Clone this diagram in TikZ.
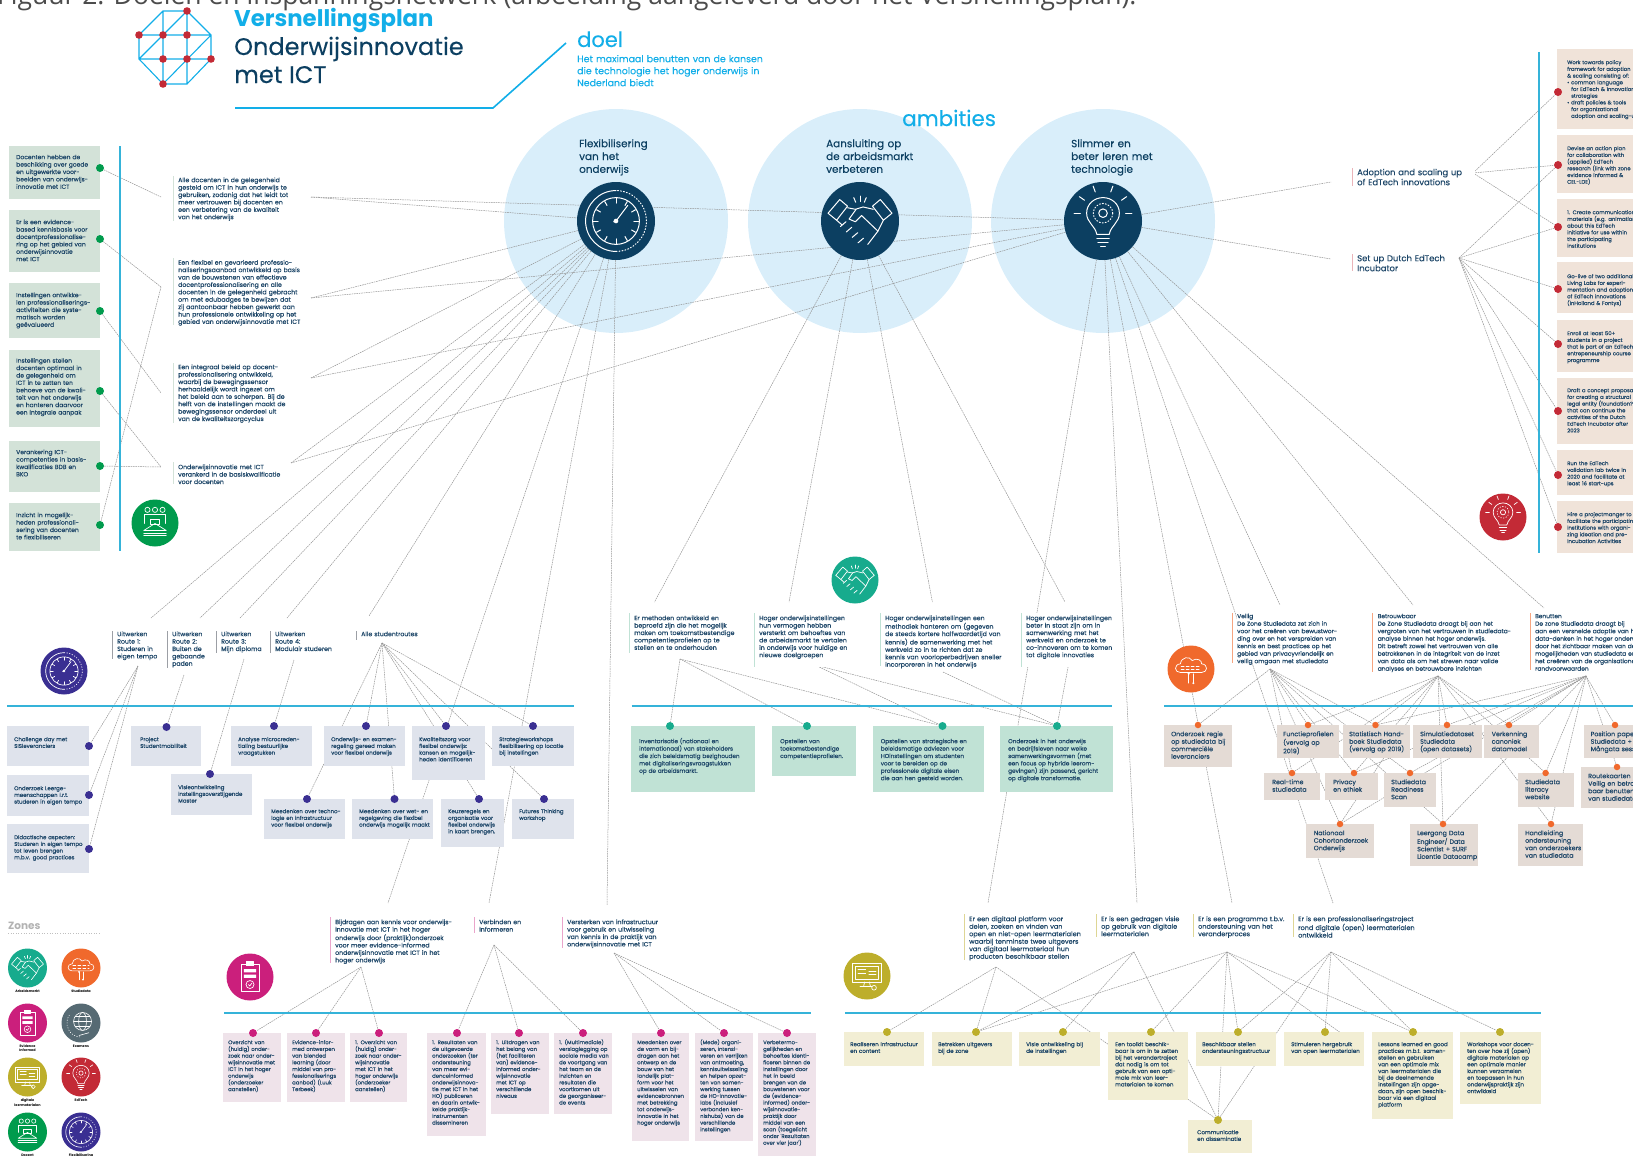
\documentclass[tikz,border=0pt]{standalone}
\usepackage{fontspec}
\setmainfont{Poppins}
\newfontfamily\capfont{Open Sans}
\newfontfamily\bodyfam{Poppins}[FakeBold=0.25]
\usetikzlibrary{backgrounds}

\definecolor{ink}{HTML}{1D4668}
\definecolor{sky}{HTML}{12AEE8}
\definecolor{rule}{HTML}{35B3D9}
\definecolor{halo}{HTML}{D9EEFA}
\definecolor{night}{HTML}{0C3F61}
\definecolor{zgreen}{HTML}{009B4D}
\definecolor{bgreen}{HTML}{D3E2D8}
\definecolor{zpurple}{HTML}{3A2F92}
\definecolor{bpurple}{HTML}{DFE3EC}
\definecolor{zteal}{HTML}{17AB8D}
\definecolor{bteal}{HTML}{C0E2D5}
\definecolor{zorange}{HTML}{F0692C}
\definecolor{borange}{HTML}{E4DBD5}
\definecolor{zpink}{HTML}{CB1F7C}
\definecolor{bpink}{HTML}{EFE3EA}
\definecolor{zolive}{HTML}{BDAE2B}
\definecolor{bolive}{HTML}{F2EED4}
\definecolor{zred}{HTML}{C32A36}
\definecolor{bred}{HTML}{F0E3D9}
\definecolor{zgrey}{HTML}{566A73}

\newcommand\boxfont{\bodyfam\fontsize{6}{7.4}\selectfont}
\newcommand\labelfont{\bodyfam\fontsize{6.2}{7.4}\selectfont}
\newcommand\mintfont{\bodyfam\fontsize{5.7}{7.4}\selectfont}
\newcommand\tallfont{\bodyfam\fontsize{6.3}{7.5}\selectfont}
\newcommand\tinyfont{\bodyfam\fontsize{5.3}{6.7}\selectfont}
\newcommand\slimfont{\bodyfam\fontsize{5.45}{6.7}\selectfont}
\newcommand\olivefont{\bodyfam\fontsize{5.5}{6.7}\selectfont}

\tikzset{
  card/.style n args={4}{anchor=north west,inner sep=0pt,font=\boxfont,text=ink,
    text width=#1,text height=#3,text depth={#2-#3},
    execute at begin node={\raggedright\leftskip=#4pt\relax}},
  tag/.style n args={3}{card={#1}{#2}{#3}{0},fill=white,font=\labelfont},
  dot/.style={circle,fill=#1,inner sep=0pt,minimum size=8pt},
  icon/.style={circle,fill=#1,inner sep=0pt,minimum size=47pt},
  mini/.style={circle,fill=#1,inner sep=0pt,minimum size=39pt},
  zonetag/.style={anchor=north,inner sep=0pt,align=center,font=\bfseries\fontsize{3.4}{4.4}\selectfont},
  link/.style={draw=black!42,line width=.5pt,dash pattern=on 1.6pt off .8pt},
  lane/.style={draw=rule,line width=2pt},
  bar/.style={draw=#1,line width=.8pt},
  headline/.style={anchor=base west,inner sep=0pt},
  glyph/.style={draw=white,line cap=round,line join=round},
  clockglyph/.pic={
    \draw[glyph] (0,0) circle (.6);
    \foreach \a in {0,30,...,330} \draw[glyph] (\a:.46) -- (\a:.58);
    \draw[glyph] (.3,-.4) -- (0,0) -- (-.06,.02);
    \fill[white] (0,0) circle (.06);
    \draw[glyph] (0,-.78) arc[start angle=-90,end angle=-270,radius=.78];
    \draw[glyph,dotted] (0,.78) arc[start angle=90,end angle=-90,radius=.78];
  },
  handglyph/.pic={
    \draw[glyph] (-.82,-.2) -- (-.52,-.55) -- (-.32,-.38) -- (-.6,-.02) -- cycle;
    \draw[glyph] (.82,-.2) -- (.52,-.55) -- (.32,-.38) -- (.6,-.02) -- cycle;
    \draw[glyph] (-.32,-.34) -- (-.12,-.3) -- (.08,-.36) -- (.34,-.3);
    \draw[glyph] (-.1,-.3) -- (-.28,-.05) -- (-.12,.02) -- (.04,-.14) -- (.46,.26);
    \draw[glyph] (-.6,-.02) -- (-.46,.1);
    \draw[glyph] (.6,-.02) -- (.46,.26) -- (.2,.6);
    \foreach \d in {0,1,2,3}
      \draw[glyph] ({-.5+.15*\d},{.14+.14*\d}) -- ({-.36+.15*\d},{.02+.14*\d});
    \draw[glyph] (0,-.64) -- (0,-.5);
    \draw[glyph] (-.16,-.6) -- (-.11,-.48);
    \draw[glyph] (.16,-.6) -- (.11,-.48);
  },
  bulbglyph/.pic={
    \draw[glyph] (-.16,.34) .. controls (-.2,.12) and (-.42,.04) .. (-.42,-.2)
      .. controls (-.42,-.44) and (-.22,-.6) .. (0,-.6)
      .. controls (.22,-.6) and (.42,-.44) .. (.42,-.2)
      .. controls (.42,.04) and (.2,.12) .. (.16,.34) -- cycle;
    \draw[glyph] (-.16,.45) -- (.16,.45);
    \draw[glyph] (-.13,.55) -- (.13,.55);
    \draw[glyph] (-.06,.65) -- (.06,.65);
    \draw[glyph] (0,-.2) circle (.11);
    \draw[glyph,dotted] (0,-.2) circle (.25);
    \begin{scope}[shift={(0,-.2)}]
      \foreach \a in {180,215,250,290,325,360} \draw[glyph] (\a:.58) -- (\a:.74);
    \end{scope}
  },
  teamglyph/.pic={
    \foreach \x in {-.32,0,.32} \draw[glyph] (\x,-.56) circle (.11);
    \draw[glyph] (-.46,.02) -- (-.46,-.36) -- (.46,-.36) -- (.46,.02);
    \draw[glyph] (-.2,-.14) rectangle (.2,.06);
    \draw[glyph] (-.48,.32) -- (0,.02) -- (.48,.32) -- cycle;
    \draw[glyph] (-.48,.43) -- (.48,.43);
    \draw[glyph] (-.48,.54) -- (.48,.54);
  },
  cloudglyph/.pic={
    \draw[glyph] (-.45,.15) .. controls (-.72,.15) and (-.74,-.2) .. (-.45,-.22)
      .. controls (-.42,-.52) and (-.05,-.56) .. (.05,-.36)
      .. controls (.25,-.5) and (.48,-.36) .. (.45,-.22)
      .. controls (.74,-.2) and (.72,.15) .. (.45,.15) -- cycle;
    \draw[glyph,densely dashed] (-.42,-.12) -- (.42,-.12);
    \draw[glyph,densely dashed] (-.42,.03) -- (.42,.03);
    \draw[glyph] (-.1,.2) -- (-.1,.6);
    \draw[glyph] (.1,.2) -- (.1,.6);
    \fill[white] (-.1,.2) circle (.05) (.1,.6) circle (.05);
  },
  clipglyph/.pic={
    \draw[glyph] (-.38,-.55) rectangle (.38,.62);
    \draw[glyph,fill=white] (-.15,-.66) rectangle (.15,-.48);
    \fill[white] (-.26,-.34) rectangle (.26,-.2) (-.26,-.1) rectangle (.26,.04);
    \draw[glyph] (0,.32) circle (.17);
    \draw[glyph] (-.07,.32) -- (-.01,.38) -- (.08,.26);
  },
  globeglyph/.pic={
    \draw[glyph] (.08,-.08) circle (.46);
    \draw[glyph] (.08,-.08) ellipse (.2 and .46);
    \draw[glyph] (-.38,-.08) -- (.54,-.08);
    \draw[glyph] (-.3,-.32) -- (.46,-.32);
    \draw[glyph] (-.3,.16) -- (.46,.16);
    \draw[glyph,dotted] (-.6,-.4) arc[start angle=-146,end angle=-270,radius=.72];
    \draw[glyph] (-.1,.64) -- (.4,.5);
  },
  screenglyph/.pic={
    \draw[glyph] (-.62,-.52) rectangle (.62,.25);
    \draw[glyph] (-.5,-.42) rectangle (.5,.14);
    \draw[glyph] (-.38,-.27) -- (-.06,-.27);
    \draw[glyph] (.08,-.2) -- (.38,-.2);
    \draw[glyph] (-.38,-.12) -- (-.06,-.12);
    \draw[glyph] (.08,-.06) -- (.38,-.06);
    \draw[glyph] (-.1,.25) -- (-.14,.42);
    \draw[glyph] (.1,.25) -- (.14,.42);
    \draw[glyph] (-.3,.44) -- (.2,.44);
    \draw[glyph] (.3,.5) circle (.1);
  }
}

\begin{document}
\begin{tikzpicture}[x=1pt,y=-1pt]
\useasboundingbox (0,0) rectangle (1633,1156);

\node[headline,text=black!70] (caption) at (-3,5)
  {\capfont\fontsize{26.5}{30}\selectfont Figuur 2: Doelen en inspanningsnetwerk (afbeelding aangeleverd door het Versnellingsplan).};

%Logo en titel
\draw[draw=sky,line width=1.1pt] (163,11) -- (187,11) -- (211,35) -- (211,59) -- (187,84) -- (163,84) -- (139,59) -- (139,35) -- cycle
  (163,11) -- (163,84) (187,11) -- (187,84) (139,35) -- (211,35) (139,59) -- (211,59)
  (139,59) -- (187,11) (163,84) -- (211,35);
\foreach \x/\y in {187/11,139/35,163/35,187/35,163/59,187/59,211/59,163/84}
  \fill[zred] (\x,\y) circle (3.8);

\node[headline,text=sky,font=\bfseries\fontsize{22.8}{27}\selectfont] (versn) at (234,27) {Versnellingsplan};
\node[headline,text=night,font=\bodyfam\fontsize{24}{28}\selectfont] (onderw) at (234,55) {Onderwijsinnovatie};
\node[headline,text=night,font=\bodyfam\fontsize{24}{28}\selectfont] (metict) at (234,83) {met ICT};
\draw[draw=sky,line width=1.6pt] (235,108) -- (493,108) -- (566,43);

\node[headline,text=sky,font=\bodyfam\fontsize{21}{25}\selectfont] (doel) at (577,47) {doel};
\node[card={215}{36}{3}{0},text=sky,font=\bodyfam\fontsize{9.4}{12}\selectfont] (doeltxt) at (577,59)
  {Het maximaal benutten van de kansen\\die technologie het hoger onderwijs in\\Nederland biedt};

%Ambities
\node[headline,text=sky,font=\bodyfam\fontsize{21.4}{25}\selectfont] (ambit) at (902,126) {ambities};

\node[circle,fill=night,inner sep=0pt,minimum size=78pt] (flex) at (616,221) {};
\node[circle,fill=night,inner sep=0pt,minimum size=78pt] (arbeid) at (860,221) {};
\node[circle,fill=night,inner sep=0pt,minimum size=78pt] (slim) at (1103,221) {};
\pic[scale=39,line width=1pt] at (flex) {clockglyph};
\pic[scale=39,line width=1pt] at (arbeid) {handglyph};
\pic[scale=39,line width=1pt] at (slim) {bulbglyph};

\node[card={100}{40}{10}{0},text=night,font=\bodyfam\fontsize{10.4}{12.8}\selectfont] (flextxt) at (579,137) {Flexibilisering\\van het\\onderwijs};
\node[card={110}{40}{10}{0},text=night,font=\bodyfam\fontsize{10.4}{12.8}\selectfont] (arbtxt) at (826,137) {Aansluiting op\\de arbeidsmarkt\\verbeteren};
\node[card={110}{40}{10}{0},text=night,font=\bodyfam\fontsize{10.4}{12.8}\selectfont] (slimtxt) at (1071,137) {Slimmer en\\beter leren met\\technologie};

%Docenten
\draw[lane] (120,146) -- (120,551);
\node[card={91}{53}{13}{7},fill=bgreen] (g1) at (9,146) {Docenten hebben de\\beschikking over goede\\en uitgewerkte voor-\\beelden van onderwijs-\\innovatie met ICT};
\node[card={91}{62}{14}{7},fill=bgreen] (g2) at (9,210) {Er is een evidence-\\based kennisbasis voor\\docentprofessionalise-\\ring op het gebied van\\onderwijsinnovatie\\met ICT};
\node[card={91}{55}{14}{7},fill=bgreen] (g3) at (9,283) {Instellingen ontwikke-\\len professionaliserings-\\activiteiten die syste-\\matisch worden\\geëvalueerd};
\node[card={91}{77}{12.5}{7},fill=bgreen] (g4) at (9,350) {Instellingen stellen\\docenten optimaal in\\de gelegenheid om\\ICT in te zetten ten\\behoeve van de kwali-\\teit van het onderwijs\\en hanteren daarvoor\\een integrale aanpak};
\node[card={91}{51}{13}{7},fill=bgreen] (g5) at (9,441) {Verankering ICT-\\competenties in basis-\\kwalificaties BDB en\\BKO};
\node[card={91}{48}{14}{7},fill=bgreen] (g6) at (9,503) {Inzicht in mogelijk-\\heden professionali-\\sering van docenten\\te flexibiliseren};
\foreach \n/\y in {gd1/168,gd2/239,gd3/311,gd4/391,gd5/466,gd6/525}
  \node[dot=zgreen] (\n) at (100,\y) {};

\node[tag={128}{45}{6}] (l1) at (178,176) {Alle docenten in de gelegenheid\\gesteld om ICT in hun onderwijs te\\gebruiken, zodanig dat het leidt tot\\meer vertrouwen bij docenten en\\een verbetering van de kwaliteit\\van het onderwijs};
\node[tag={128}{67}{6.5}] (l2) at (178,258) {Een flexibel en gevarieerd professio-\\naliseringsaanbod ontwikkeld op basis\\van de bouwstenen van effectieve\\docentprofessionalisering en alle\\docenten in de gelegenheid gebracht\\om met edubadges te bewijzen dat\\zij aantoonbaar hebben gewerkt aan\\hun professionele ontwikkeling op het\\gebied van onderwijsinnovatie met ICT};
\node[tag={128}{60}{6}] (l3) at (178,363) {Een integraal beleid op docent-\\professionalisering ontwikkeld,\\waarbij de bewegingssensor\\herhaaldelijk wordt ingezet om\\het beleid aan te scherpen. Bij de\\helft van de instellingen maakt de\\bewegingssensor onderdeel uit\\van de kwaliteitszorgcyclus};
\node[tag={110}{22}{7}] (l4) at (178,462) {Onderwijsinnovatie met ICT\\verankerd in de basiskwalificatie\\voor docenten};
\foreach \n in {l1,l2,l3,l4}
  \draw[bar=bgreen] ([xshift=-5pt]\n.north west) -- ([xshift=-5pt]\n.south west);

\node[icon=zgreen] (icteam) at (155,523) {};
\pic[scale=23.5,line width=.7pt] at (icteam) {teamglyph};

\coordinate (l1in) at (161,197);
\coordinate (l2in) at (161,287);
\coordinate (l3in) at (161,393);
\coordinate (l4in) at (161,467);
\coordinate (l1out) at (311,197);
\coordinate (l2out) at (311,298);
\coordinate (l3out) at (311,378);
\coordinate (l4out) at (291,463);

%Adoption en incubator
\draw[lane] (1539,52) -- (1539,553);
\tikzset{redcard/.style n args={3}{card={#1}{#2}{#3}{10},fill=bred,font=\tinyfont}}
\node[redcard={140}{80}{15}] (r1) at (1557,49) {Work towards policy\\framework for adoption\\\& scaling consisting of:\\• common language\\\hspace*{4pt}for EdTech \& innovation\\\hspace*{4pt}strategies\\• draft policies \& tools\\\hspace*{4pt}for organizational\\\hspace*{4pt}adoption and scaling-up};
\node[redcard={140}{58}{15}] (r2) at (1557,135) {Devise an action plan\\for collaboration with\\(applied) EdTech\\research (link with zone\\evidence informed \&\\CEL-LDE)};
\node[redcard={140}{58}{15}] (r3) at (1557,199) {1. Create communication\\materials (e.g. animation)\\about this EdTech\\initiative for use within\\the participating\\institutions};
\node[redcard={140}{51}{16}] (r4) at (1557,262) {Go-live of two additional\\Living Labs for experi-\\mentation and adoption\\of EdTech innovations\\(inHolland \& Fontys)};
\node[redcard={140}{52}{15}] (r5) at (1557,320) {Enroll at least 50+\\students in a project\\that is part of an EdTech\\entrepeneurship course\\programme};
\node[redcard={140}{66}{14}] (r6) at (1557,378) {Draft a concept proposal\\for creating a structural\\legal entity (foundation?)\\that can continue the\\activities of the Dutch\\EdTech Incubator after\\2023};
\node[redcard={140}{45}{15}] (r7) at (1557,450) {Run the EdTech\\validation lab twice in\\2020 and facilitate at\\least 16 start-ups};
\node[redcard={140}{52}{15}] (r8) at (1557,501) {Hire a projectmanger to\\facilitate the participating\\institutions with organi-\\zing ideation and pre-\\incubation Activities};
\foreach \n/\y in {rd1/92,rd2/165,rd3/227,rd4/289,rd5/344,rd6/411,rd7/475,rd8/527}
  \node[dot=zred] (\n) at (1558,\y) {};

\node[tag={118}{18}{7},font=\bodyfam\fontsize{8.4}{10}\selectfont] (adopt) at (1357,168) {Adoption and scaling up\\of EdTech innovations};
\node[tag={100}{17}{7},font=\bodyfam\fontsize{8.4}{10}\selectfont] (setup) at (1357,254) {Set up Dutch EdTech\\Incubator};
\foreach \n in {adopt,setup}
  \draw[bar=zred!35] ([xshift=-5pt]\n.north west) -- ([xshift=-5pt]\n.south west);

\node[icon=zred] (icbulb) at (1503,517) {};
\pic[scale=23.5,line width=.7pt] at (icbulb) {bulbglyph};

\coordinate (adoptin) at (1331,182);
\coordinate (setupin) at (1331,259);
\coordinate (adoptout) at (1473,173);
\coordinate (setupout) at (1459,258);

%Flexibilisering
\draw[lane] (7,706) -- (574,706);
\node[tag={48}{28}{5}] (u1) at (117,631) {Uitwerken\\Route 1:\\Studeren in\\eigen tempo};
\node[tag={40}{37}{5}] (u2) at (172,631) {Uitwerken\\Route 2:\\Buiten de\\gebaande\\paden};
\node[tag={48}{22}{5}] (u3) at (221,631) {Uitwerken\\Route 3:\\Mijn diploma};
\node[tag={62}{22}{5}] (u4) at (275,631) {Uitwerken\\Route 4:\\Modulair studeren};
\node[tag={66}{9}{5}] (u5) at (361,631) {Alle studentroutes};
\foreach \n in {u1,u2,u3,u4,u5}
  \draw[bar=bpurple!70!black] ([xshift=-5pt]\n.north west) -- ([xshift=-5pt]\n.south west);

\node[icon=zpurple] (icflex) at (64,671) {};
\pic[scale=23.5,line width=.7pt] at (icflex) {clockglyph};

\tikzset{purplecard/.style n args={4}{card={#2}{#3}{#4}{#1},fill=bpurple,font=\slimfont}}
\node[purplecard={7}{82}{40}{15}] (b1) at (7,726) {Challenge day met\\SISleveranciers};
\node[purplecard={7}{82}{41}{15}] (b2) at (7,775) {Onderzoek Leerge-\\meenschappen i.r.t.\\studeren in eigen tempo};
\node[purplecard={7}{82}{49}{15}] (b3) at (7,824) {Didactische aspecten:\\Studeren in eigen tempo\\tot leven brengen\\m.b.v. good practices};
\node[purplecard={9}{70}{40}{15}] (b4) at (131,726) {Project\\Studentmobiliteit};
\node[purplecard={7}{81}{41}{15}] (b5) at (171,774) {Visieontwikkeling\\instellingsoverstijgende\\Master};
\node[purplecard={7}{81}{40}{15}] (b6) at (231,726) {Analyse microcreden-\\tialing bestuurlijke\\vraagstukken};
\node[purplecard={7}{81}{40}{15}] (b7) at (324,726) {Onderwijs- en examen-\\regeling gereed maken\\voor flexibel onderwijs};
\node[purplecard={7}{73}{54}{15}] (b8) at (412,726) {Kwaliteitszorg voor\\flexibel onderwijs:\\kansen en mogelijk-\\heden identificeren};
\node[purplecard={7}{82}{40}{15}] (b9) at (492,726) {Strategieworkshops\\flexibilisering op locatie\\bij instellingen};
\node[purplecard={7}{81}{40}{14}] (b10) at (264,799) {Meedenken over techno-\\logie en infrastructuur\\voor flexibel onderwijs};
\node[purplecard={7}{81}{40}{14}] (b11) at (352,799) {Meedenken over wet- en\\regelgeving die flexibel\\onderwijs mogelijk maakt};
\node[purplecard={7}{63}{48}{14}] (b12) at (441,799) {Keuzeregels en\\organisatie voor\\flexibel onderwijs\\in kaart brengen.};
\node[purplecard={7}{62}{40}{14}] (b13) at (512,799) {Futures Thinking\\workshop};
\foreach \n/\x/\y in {bd1/89/746,bd2/89/795,bd3/89/849,bd4/166.5/727,bd5/210/774,bd6/274/726,bd7/366/726,bd8/446/726,bd9/533/726,bd10/307/799,bd11/394.5/799,bd12/479/799,bd13/544/799}
  \node[dot=zpurple] (\n) at (\x,\y) {};

\coordinate (u1in) at (151,618);
\coordinate (u2in) at (200,618);
\coordinate (u3in) at (240,618);
\coordinate (u4in) at (287,618);
\coordinate (u5in) at (369,616);
\coordinate (u1out) at (138,666);
\coordinate (u2out) at (184,675);
\coordinate (u3out) at (244,659);
\coordinate (u4out) at (294,660);
\coordinate (u5out) at (382,643);

%Arbeidsmarkt
\draw[lane] (631.5,706) -- (1112,706);
\node[tag={112}{40}{7}] (m1) at (634,613) {Er methoden ontwikkeld en\\beproefd zijn die het mogelijk\\maken om toekomstbestendige\\competentieprofielen op te\\stellen en te onderhouden};
\node[tag={112}{54}{7}] (m2) at (759,613) {Hoger onderwijsinstellingen\\hun vermogen hebben\\versterkt om behoeftes van\\de arbeidsmarkt te vertalen\\in onderwijs voor huidige en\\nieuwe doelgroepen};
\node[tag={130}{53}{7}] (m3) at (885,613) {Hoger onderwijsinstellingen een\\methodiek hanteren om (gegeven\\de steeds kortere halfwaardetijd van\\kennis) de samenwerking met het\\werkveld zo in te richten dat ze\\kennis van voorloperbedrijven sneller\\incorporeren in het onderwijs};
\node[tag={92}{54}{7}] (m4) at (1026,613) {Hoger onderwijsinstellingen\\beter in staat zijn om in\\samenwerking met het\\werkveld en onderzoek te\\co-innoveren om te komen\\tot digitale innovaties};
\foreach \n in {m1,m2,m3,m4}
  \draw[bar=bteal] ([xshift=-5pt]\n.north west) -- ([xshift=-5pt]\n.south west);

\node[icon=zteal] (ichand) at (855,580) {};
\pic[scale=23.5,line width=.7pt] at (ichand) {handglyph};

\node[card={124}{66}{17}{8},fill=bteal,font=\mintfont] (n1) at (631,726) {Inventarisatie (nationaal en\\internationaal) van stakeholders\\die zich beleidsmatig bezighouden\\met digitaliseringsvraagstukken\\op de arbeidsmarkt.};
\node[card={84}{50}{17}{8},fill=bteal,font=\mintfont] (n2) at (772,726) {Opstellen van\\toekomstbestendige\\competentieprofielen.};
\node[card={111}{66}{17}{8},fill=bteal,font=\mintfont] (n3) at (872.6,726) {Opstellen van strategische en\\beleidsmatige adviezen voor\\HOinstellingen om studenten\\voor te bereiden op de\\professionele digitale eisen\\die aan hen gesteld worden.};
\node[card={113}{66}{17}{8},fill=bteal,font=\mintfont] (n4) at (1000,726) {Onderzoek in het onderwijs\\en bedrijfsleven naar welke\\samenwerkingsvormen (met\\een focus op hybride leerom-\\gevingen) zijn passend, gericht\\op digitale transformatie.};
\foreach \n/\x in {nd1/670,nd2/807,nd3/942.5,nd4/1057}
  \node[dot=zteal] (\n) at (\x,726) {};

\coordinate (m1in) at (654.5,602);
\coordinate (m2in) at (789,602);
\coordinate (m3in) at (932.4,602);
\coordinate (m4in) at (1065,602);
\coordinate (m1out) at (680,659);
\coordinate (m2out) at (815,665);
\coordinate (m3out) at (943,672);
\coordinate (m4out) at (1069,662);

%Studiedata
\draw[lane] (1164,706) -- (1633,706);
\tikzset{datatag/.style={font=\bodyfam\fontsize{5.9}{7.5}\selectfont}}
\node[tag={108}{50}{5},datatag] (v1) at (1237,613) {Veilig\\De Zone Studiedata zet zich in\\voor het creëren van bewustwor-\\ding over en het verspreiden van\\kennis en best practices op het\\gebied van privacyvriendelijk en\\veilig omgaan met studiedata};
\node[tag={146}{59}{5},datatag] (v2) at (1377.5,613) {Betrouwbaar\\De Zone Studiedata draagt bij aan het\\vergroten van het vertrouwen in studiedata-\\analyse binnen het hoger onderwijs.\\Dit betreft zowel het vertrouwen van alle\\betrokkenen in de integriteit van de inzet\\van data als om het streven naar valide\\analyses en betrouwbare inzichten};
\node[tag={130}{57}{5},datatag] (v3) at (1535,613) {Benutten\\De zone Studiedata draagt bij\\aan een versnelde adoptie van het\\data-denken in het hoger onderwijs\\door het zichtbaar maken van de\\mogelijkheden van studiedata en\\het creëren van de organisationele\\randvoorwaarden};
\foreach \n in {v1,v2,v3}
  \draw[bar=zorange!60] ([xshift=-5pt]\n.north west) -- ([xshift=-5pt]\n.south west);

\node[icon=zorange] (iccloud) at (1191,669) {};
\pic[scale=23.5,line width=.7pt] at (iccloud) {cloudglyph};

\tikzset{orangecard/.style n args={4}{card={#1}{#2}{#3}{#4},fill=borange,font=\tallfont}}
\node[orangecard={68}{42}{11}{7}] (o1) at (1164,725) {Onderzoek regie\\op studiedata bij\\commerciële\\leveranciers};
\node[orangecard={62}{33}{11}{6}] (o2) at (1277,725) {Functieprofielen\\(vervolg op\\2019)};
\node[orangecard={67.5}{33}{11}{6.5}] (o3) at (1342.5,725) {Statistisch Hand-\\boek Studiedata\\(vervolg op 2019)};
\node[orangecard={69}{33}{11}{7}] (o4) at (1413,725) {Simulatiedataset\\Studiedata\\(open datasets)};
\node[orangecard={55}{33}{11}{7.5}] (o5) at (1484,725) {Verkenning\\canoniek\\datamodel};
\node[orangecard={80}{33}{11}{6.5}] (o6) at (1584,725) {Position paper\\Studiedata +\\Mångata sessie};
\node[orangecard={56}{27}{11}{8}] (o7) at (1264,773) {Real-time\\studiedata};
\node[orangecard={53}{27}{11}{8}] (o8) at (1325,773) {Privacy\\en ethiek};
\node[orangecard={52}{34}{11}{7}] (o9) at (1384,773) {Studiedata\\Readiness\\Scan};
\node[orangecard={55.5}{34}{11}{7}] (o10) at (1518,773) {Studiedata\\literacy\\website};
\node[orangecard={80}{41}{11}{7}] (o11) at (1581,767) {Routekaarten\\Veilig en betrouw-\\baar benutten\\van studiedata};
\node[orangecard={68}{34}{11}{7.6}] (o12) at (1306,824) {Nationaal\\Cohortonderzoek\\Onderwijs};
\node[orangecard={68}{42}{11}{7.5}] (o13) at (1409.5,824) {Leergang Data\\Engineer/ Data\\Scientist + SURF\\Licentie Datacamp};
\node[orangecard={65}{42}{11}{7}] (o14) at (1518,824) {Handleiding\\ondersteuning\\van onderzoekers\\van studiedata};
\tikzset{orangedot/.style={dot=zorange,minimum size=6.5pt}}
\foreach \n/\x/\y in {od1/1198/725,od2/1308/725,od3/1375.5/725,od4/1447/725,od5/1509/725,od6/1615/725,od7/1292/773,od8/1354/773,od9/1410/773,od10/1545.6/773,od11/1617/767,od12/1340/824,od13/1443/824,od14/1551/824}
  \node[orangedot] (\n) at (\x,\y) {};

\coordinate (v1in) at (1280,605);
\coordinate (v2in) at (1413,605);
\coordinate (v3in) at (1544,608);
\coordinate (v1out) at (1270,669);
\coordinate (v2out) at (1438,676);
\coordinate (v3out) at (1586,676);

%Zones
\node[headline,text=black!30,font=\bfseries\fontsize{10.5}{12}\selectfont] (zones) at (8,929) {Zones};
\draw[draw=black!25,dotted,line width=.6pt] (8,933) -- (100,933);
\node[mini=zteal] (z1) at (27.5,968) {};
\node[mini=zorange] (z2) at (81,968) {};
\node[mini=zpink] (z3) at (27.5,1023) {};
\node[mini=zgrey] (z4) at (81,1023) {};
\node[mini=zolive] (z5) at (27.5,1077) {};
\node[mini=zred] (z6) at (81,1077) {};
\node[mini=zgreen] (z7) at (27.5,1132) {};
\node[mini=zpurple] (z8) at (81,1132) {};
\pic[scale=19.5,line width=.6pt] at (z1) {handglyph};
\pic[scale=19.5,line width=.6pt] at (z2) {cloudglyph};
\pic[scale=19.5,line width=.6pt] at (z3) {clipglyph};
\pic[scale=19.5,line width=.6pt] at (z4) {globeglyph};
\pic[scale=19.5,line width=.6pt] at (z5) {screenglyph};
\pic[scale=19.5,line width=.6pt] at (z6) {bulbglyph};
\pic[scale=19.5,line width=.6pt] at (z7) {teamglyph};
\pic[scale=19.5,line width=.6pt] at (z8) {clockglyph};
\node[zonetag] (zt1) at (27.5,990) {Arbeidsmarkt};
\node[zonetag] (zt2) at (81,990) {Studiedata};
\node[zonetag] (zt3) at (27.5,1044.5) {Evidence\\Informed};
\node[zonetag] (zt4) at (81,1044.5) {Examens};
\node[zonetag] (zt5) at (27.5,1099) {digitale\\leermaterialen};
\node[zonetag] (zt6) at (81,1099) {EdTech};
\node[zonetag] (zt7) at (27.5,1153.5) {Docent};
\node[zonetag] (zt8) at (81,1153.5) {Flexibilisering};

%Evidence informed
\draw[lane] (224,1013) -- (811,1013);
\node[icon=zpink] (icclip) at (250,977) {};
\pic[scale=23.5,line width=.7pt] at (icclip) {clipglyph};
\node[tag={128}{46}{7}] (p1) at (335,917) {Bijdragen aan kennis voor onderwijs-\\innovatie met ICT in het hoger\\onderwijs door (praktijk)onderzoek\\voor meer evidence-informed\\onderwijsinnovatie met ICT in het\\hoger onderwijs};
\node[tag={54}{16}{7}] (p2) at (479,917) {Verbinden en\\informeren};
\node[tag={115}{31}{7}] (p3) at (567,917) {Versterken van infrastructuur\\voor gebruik en uitwisseling\\van kennis in de praktijk van\\onderwijsinnovatie met ICT};
\foreach \n in {p1,p2,p3}
  \draw[bar=zpink!40] ([xshift=-5pt]\n.north west) -- ([xshift=-5pt]\n.south west);

\tikzset{pinkcard/.style n args={2}{card={#1}{#2}{11}{5},fill=bpink,font=\tinyfont}}
\node[pinkcard={58}{69}] (q1) at (223,1033) {Overzicht van\\(huidig) onder-\\zoek naar onder-\\wijsinnovatie met\\ICT in het hoger\\onderwijs\\(onderzoeker\\aanstellen)};
\node[pinkcard={58}{69}] (q2) at (287,1033) {Evidence-infor-\\med ontwerpen\\van blended\\learning (door\\middel van pro-\\fessionaliserings\\aanbod) (Luuk\\Terbeek)};
\node[pinkcard={57}{69}] (q3) at (350,1033) {1. Overzicht van\\(huidig) onder-\\zoek naar onder-\\wijsinnovatie\\met ICT in het\\hoger onderwijs\\(onderzoeker\\aanstellen)};
\node[pinkcard={59}{103}] (q4) at (427,1033) {1. Resultaten van\\de uitgevoerde\\onderzoeken (ter\\ondersteuning\\van meer evi-\\denceinformed\\onderwijsinnova-\\tie met ICT in het\\HO) publiceren\\en daarin ontwik-\\kelde praktijk-\\instrumenten\\dissemineren};
\node[pinkcard={58}{81}] (q5) at (491,1033) {1. Uitdragen van\\het belang van\\(het faciliteren\\van) evidence-\\informed onder-\\wijsinnovatie\\met ICT op\\verschillende\\niveaus};
\node[pinkcard={58}{81}] (q6) at (554,1033) {1. (Multimediale)\\verslaglegging op\\sociale media van\\de voortgang van\\het team en de\\inzichten en\\resultaten die\\voortkomen uit\\de georganiseer-\\de events};
\node[pinkcard={57}{108}] (q7) at (632,1033) {Meedenken over\\de vorm en bij-\\dragen aan het\\ontwerp en de\\bouw van het\\landelijk plat-\\form voor het\\uitwisselen van\\evidencebronnen\\met betrekking\\tot onderwijs-\\innovatie in het\\hoger onderwijs};
\node[pinkcard={58}{108}] (q8) at (695,1033) {(Mede) organi-\\seren, intensi-\\veren en verrijken\\van ontmoeting,\\kennisuitwisseling\\en helpen opzet-\\ten van samen-\\werking tussen\\de HO-innovatie-\\labs (inclusief\\verbonden ken-\\nishubs) van de\\verschillende\\instellingen};
\node[pinkcard={58}{123}] (q9) at (758,1033) {Verbetermo-\\gelijkheden en\\behoeftes identi-\\ficeren binnen de\\instellingen door\\het in beeld\\brengen van de\\bouwstenen voor\\de (evidence-\\informed) onder-\\wijsinnovatie-\\praktijk door\\middel van een\\scan (toegelicht\\onder 'Resultaten\\over vier jaar')};
\foreach \n/\x in {qd1/253,qd2/316,qd3/379,qd4/457,qd5/519,qd6/583,qd7/661,qd8/724,qd9/787}
  \node[dot=zpink] (\n) at (\x,1033) {};

\coordinate (p1in) at (388,903);
\coordinate (p2in) at (489,903);
\coordinate (p3in) at (607,905);
\coordinate (p1out) at (361,967);
\coordinate (p2out) at (494,945);
\coordinate (p3out) at (614,953);

%Digitale leermaterialen
\draw[lane] (845,1013) -- (1541,1013);
\node[icon=zolive] (icscreen) at (867,976) {};
\pic[scale=23.5,line width=.7pt] at (icscreen) {screenglyph};
\tikzset{olivetag/.style={font=\bodyfam\fontsize{6.5}{7.5}\selectfont}}
\node[tag={118}{46}{7},olivetag] (e1) at (969,914) {Er een digitaal platform voor\\delen, zoeken en vinden van\\open en niet-open leermaterialen\\waarbij tenminste twee uitgevers\\van digitaal leermateriaal hun\\producten beschikbaar stellen};
\node[tag={84}{23}{7},olivetag] (e2) at (1101,914) {Er is een gedragen visie\\op gebruik van digitale\\leermaterialen};
\node[tag={92}{23}{7},olivetag] (e3) at (1198,914) {Er is een programma t.b.v.\\ondersteuning van het\\veranderproces};
\node[tag={128}{23}{7},olivetag] (e4) at (1298,914) {Er is een professionaliseringstraject\\rond digitale (open) leermaterialen\\ontwikkeld};
\foreach \n in {e1,e2,e3,e4}
  \draw[bar=zolive!50] ([xshift=-5pt]\n.north west) -- ([xshift=-5pt]\n.south west);

\tikzset{olivecard/.style n args={3}{card={#1}{#2}{14}{#3},fill=bolive,font=\olivefont}}
\node[olivecard={80}{34}{6}] (f1) at (844,1032) {Realiseren infrastructuur\\en content};
\node[olivecard={80}{34}{6}] (f2) at (932,1032) {Betrekken uitgevers\\bij de zone};
\node[olivecard={81}{34}{7}] (f3) at (1019,1032) {Visie ontwikkeling bij\\de instellingen};
\node[olivecard={80}{68}{7}] (f4) at (1108,1032) {Een toolkit beschik-\\baar is om in te zetten\\bij het verandertraject\\dat nodig is om tot\\gebruik van een opti-\\male mix van leer-\\materialen te komen};
\node[olivecard={80}{34}{6}] (f5) at (1196,1032) {Beschikbaar stellen\\ondersteuningsstructuur};
\node[olivecard={80}{34}{7}] (f6) at (1284,1032) {Stimuleren hergebruik\\van open leermaterialen};
\node[olivecard={81}{87}{6}] (f7) at (1372,1032) {Lessons learned en good\\practices m.b.t. samen-\\stellen en gebruiken\\van een optimale mix\\van leermaterialen die\\bij de deelnemende\\instellingen zijn opge-\\daan, zijn open beschik-\\baar via een digitaal\\platform};
\node[olivecard={81}{72}{7}] (f8) at (1460,1032) {Workshops voor docen-\\ten over hoe zij (open)\\digitale materialen op\\een optimale manier\\kunnen verzamelen\\en toepassen in hun\\onderwijspraktijk zijn\\ontwikkeld};
\node[olivecard={64}{33}{9}] (f9) at (1188,1120) {Communicatie\\en disseminatie};
\foreach \n/\x/\y in {fd1/887/1032,fd2/976/1032,fd3/1063/1032,fd4/1151/1032,fd5/1238/1032,fd6/1325/1032,fd7/1413/1032,fd8/1500/1032,fd9/1218/1120}
  \node[dot=zolive] (\n) at (\x,\y) {};

\coordinate (e1in) at (988,903);
\coordinate (e2in) at (1137,903);
\coordinate (e3in) at (1232,903);
\coordinate (e4in) at (1333,903);
\coordinate (e1out) at (996,967);
\coordinate (e2out) at (1134,952);
\coordinate (e3out) at (1227,952);
\coordinate (e4out) at (1331,952);
\coordinate (e3hide) at (1355,1043);

%Achtergrond: cirkels en verbindingen
\begin{pgfonlayer}{background}
\node[circle,fill=halo,inner sep=0pt,minimum size=224pt] (flexhalo) at (616,221) {};
\node[circle,fill=halo,inner sep=0pt,minimum size=224pt] (arbeidhalo) at (860,221) {};
\node[circle,fill=halo,inner sep=0pt,minimum size=224pt] (slimhalo) at (1103,221) {};

\draw[link] (gd1) -- (l1in);
\draw[link] (gd2) -- (l2in);
\draw[link] (gd6) -- (l2in);
\draw[link] (gd3) -- (l3in);
\draw[link] (gd4) -- (l4in);
\draw[link] (gd5) -- (l4in);
\foreach \s in {l1out,l2out,l3out,l4out} {
  \draw[link] (\s) -- (flex);
  \draw[link] (\s) -- (slim);
}
\foreach \t in {u1in,u2in,u3in,u4in,u5in,p1in,p2in,p3in}
  \draw[link] (flex) -- (\t);
\foreach \t in {m1in,m2in,m3in,m4in}
  \draw[link] (arbeid) -- (\t);
\foreach \t in {adoptin,setupin,v1in,v2in,v3in,e1in,e2in,e3in,e4in}
  \draw[link] (slim) -- (\t);

\foreach \t in {rd1,rd2,rd3}
  \draw[link] (adoptout) -- (\t);
\foreach \t in {rd2,rd3,rd4,rd5,rd6,rd7,rd8}
  \draw[link] (setupout) -- (\t);

\foreach \t in {bd1,bd2,bd3}
  \draw[link] (u1out) -- (\t);
\draw[link] (u2out) -- (bd4);
\draw[link] (u3out) -- (bd5);
\draw[link] (u4out) -- (bd6);
\foreach \t in {bd7,bd8,bd9,bd10,bd11,bd12,bd13}
  \draw[link] (u5out) -- (\t);

\foreach \t in {nd1,nd2,nd3}
  \draw[link] (m1out) -- (\t);
\foreach \t in {nd3,nd4}
  \draw[link] (m2out) -- (\t);
\draw[link] (m3out) -- (nd4);
\draw[link] (m4out) -- (nd4);

\foreach \t in {od1,od2,od3,od7,od8,od9,od12,od13}
  \draw[link] (v1out) -- (\t);
\foreach \t in {od2,od3,od4,od5,od7,od8,od10,od12,od13,od14}
  \draw[link] (v2out) -- (\t);
\foreach \t in {od3,od4,od5,od6,od8,od9,od10,od11,od12,od13,od14}
  \draw[link] (v3out) -- (\t);

\foreach \t in {qd1,qd2,qd3}
  \draw[link] (p1out) -- (\t);
\foreach \t in {qd4,qd5,qd6}
  \draw[link] (p2out) -- (\t);
\foreach \t in {qd7,qd8,qd9}
  \draw[link] (p3out) -- (\t);

\foreach \t in {fd1,fd2,fd9}
  \draw[link] (e1out) -- (\t);
\foreach \t in {fd2,fd3,fd9}
  \draw[link] (e2out) -- (\t);
\foreach \t in {fd2,fd4,fd5,fd7,fd9,e3hide}
  \draw[link] (e3out) -- (\t);
\foreach \t in {fd5,fd6,fd7,fd8,fd9}
  \draw[link] (e4out) -- (\t);
\end{pgfonlayer}

\end{tikzpicture}
\end{document}
